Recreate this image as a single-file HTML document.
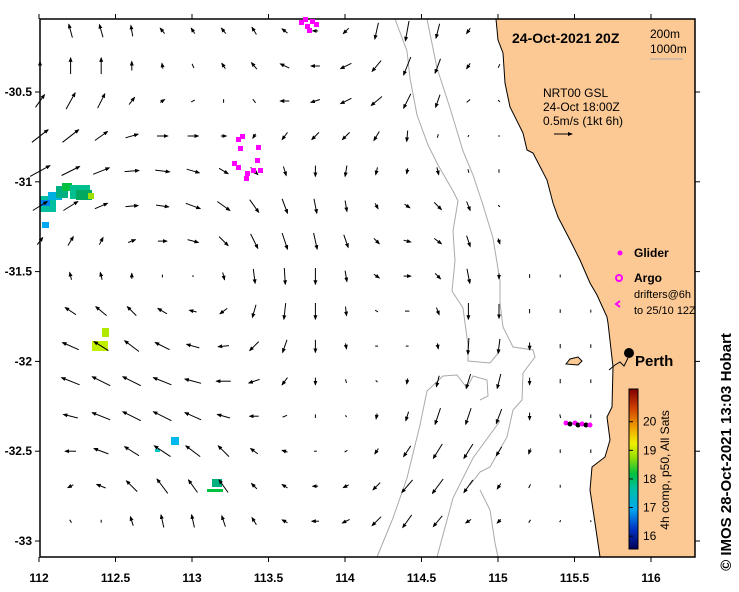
<!DOCTYPE html>
<html><head><meta charset="utf-8">
<style>
html,body{margin:0;padding:0;background:#fff;}
svg{display:block;font-family:"Liberation Sans",sans-serif;}
</style></head>
<body>
<svg id="chart" width="739" height="592" viewBox="0 0 739 592" xmlns="http://www.w3.org/2000/svg">
<defs>
<linearGradient id="cbar" x1="0" y1="1" x2="0" y2="0">
<stop offset="0" stop-color="#00005a"/>
<stop offset="0.12" stop-color="#0030c0"/>
<stop offset="0.25" stop-color="#00a8f0"/>
<stop offset="0.38" stop-color="#00c0a0"/>
<stop offset="0.47" stop-color="#00c040"/>
<stop offset="0.58" stop-color="#a0e000"/>
<stop offset="0.66" stop-color="#f0f000"/>
<stop offset="0.76" stop-color="#f0a000"/>
<stop offset="0.88" stop-color="#d04000"/>
<stop offset="1" stop-color="#800000"/>
</linearGradient>
<marker id="ah" markerWidth="5" markerHeight="4" refX="4" refY="2" orient="auto" markerUnits="userSpaceOnUse"><path d="M0,0 L5,2 L0,4 Z" fill="#000"/></marker>
</defs>
<g id="isobaths" fill="none" stroke="#aaa" stroke-width="1"></g>
<g id="sst"></g>
<g id="arrows" stroke="#000" stroke-width="1"></g>
<polygon id="land" fill="#fcc994" stroke="#000" stroke-width="1"
points="496,19 498,40 503,53 505,83 510,107 523,133 527,150 533,153 547,180 553,203 558,217 570,240 580,260 590,283 597,295 607,317 608,323 613,367 612,407 607,417 610,440 605,457 592,467 590,490 595,523 600,557 695,557 695,19"/>
<path d="M566,364 L570,359 L578,357 L582,361 L578,365 Z" fill="#fcc994" stroke="#000"/>
<g id="frame"><rect x="40" y="19" width="655" height="538" fill="none" stroke="#000" stroke-width="1.5"/></g>
<g id="axes" font-size="12" font-weight="bold" fill="#000"></g>
<text x="512" y="43" font-size="14" font-weight="bold">24-Oct-2021 20Z</text>
<text x="650" y="38" font-size="12">200m</text>
<text x="650" y="53" font-size="12">1000m</text>
<line x1="650" y1="59" x2="683" y2="59" stroke="#aaa"/>
<text x="543" y="97" font-size="12">NRT00 GSL</text>
<text x="543" y="111" font-size="12">24-Oct 18:00Z</text>
<text x="543" y="125" font-size="12">0.5m/s (1kt 6h)</text>
<line x1="554" y1="134" x2="572" y2="134" stroke="#000" marker-end="url(#ah)"/>
<circle cx="620" cy="253" r="2.5" fill="#f0f"/>
<text x="634" y="257" font-size="12" font-weight="bold">Glider</text>
<circle cx="619" cy="278" r="3" fill="none" stroke="#f0f" stroke-width="2"/>
<text x="634" y="282" font-size="12" font-weight="bold">Argo</text>
<path d="M620,301 L616,304 L620,307" fill="none" stroke="#f0f" stroke-width="2"/>
<text x="634" y="298" font-size="11">drifters@6h</text>
<text x="634" y="314" font-size="11">to 25/10 12Z</text>
<circle cx="629" cy="353" r="5" fill="#000"/>
<path d="M609,370 L615,365 L620,362 L624,366 L628,358" fill="none" stroke="#000"/>
<text x="635" y="366" font-size="15" font-weight="bold">Perth</text>
<g id="drifters" fill="#f0f"></g>
<g id="glider"></g>
<rect x="629" y="389" width="9" height="160" fill="url(#cbar)" stroke="#000"/>
<g id="cbticks" font-size="12"></g>
<text transform="translate(669,470) rotate(-90)" text-anchor="middle" font-size="12">4h comp, p50, All Sats</text>
<text transform="translate(731,452) rotate(-90)" text-anchor="middle" font-size="15" font-weight="bold">©  IMOS 28-Oct-2021 13:03 Hobart</text>
</svg>
<script>
// Axis domains
const lonTicks = [112, 112.5, 113, 113.5, 114, 114.5, 115, 115.5, 116];
const lonLabels = ["112", "112.5", "113", "113.5", "114", "114.5", "115", "115.5", "116"];
const latTicks = [-30.5, -31, -31.5, -32, -32.5, -33];
const latLabels = ["-30.5", "-31", "-31.5", "-32", "-32.5", "-33"];
const cbValues = [16, 17, 18, 19, 20];
const cbLabels = ["16", "17", "18", "19", "20"];
// Current vector grid: longitudes of columns, latitudes of rows
const gridLons = [112, 112.2, 112.4, 112.6, 112.8, 113, 113.2, 113.4, 113.6, 113.8, 114, 114.2, 114.4, 114.6, 114.8, 115, 115.2, 115.4, 115.6];
const gridLats = [-30.16, -30.355, -30.55, -30.745, -30.94, -31.135, -31.33, -31.525, -31.72, -31.915, -32.11, -32.305, -32.5, -32.695, -32.89];
// eastward velocity (cm/s) per row
const uRows = [
[0,-10,-10,-5,-12,-10,-12,-12,-15,-15,-15,-10,-10,-10,-10,0,0,0,0],
[0,0,0,0,-3,-5,-10,-15,-25,-25,-30,-25,-20,-15,-10,-5,0,0,0],
[25,25,20,15,12,10,0,8,-25,-25,-30,-30,-20,-12,-10,5,0,0,0],
[45,45,35,35,30,30,15,-8,-15,-20,-20,-15,-3,-3,-3,0,0,0,0],
[55,50,45,40,40,35,25,20,8,0,-5,-5,-3,5,3,0,0,0,0],
[40,40,35,35,35,40,35,25,15,8,5,8,15,20,10,5,0,0,0],
[15,15,10,20,25,30,25,20,15,10,12,15,20,20,10,5,0,0,0],
[0,-5,-5,0,0,5,5,5,3,0,5,15,20,15,8,0,0,0,0],
[0,-30,-30,-25,-25,-20,-20,-10,-5,0,3,8,12,8,0,0,0,0,0],
[0,-45,-40,-40,-40,-35,-30,-25,-12,0,3,8,8,3,-3,-5,0,0,0],
[0,-50,-50,-50,-50,-45,-40,-30,-15,0,3,5,-3,-8,-12,-10,0,0,0],
[0,-40,-50,-50,-50,-45,-35,-25,-12,0,3,-3,-8,-15,-15,-15,0,2,0],
[0,-30,-40,-40,-45,-40,-30,-20,-15,-8,-8,-10,-20,-25,-25,-15,-5,0,0],
[0,-15,-25,-30,-30,-25,-25,-15,-15,-15,-15,-20,-30,-30,-25,-10,-5,0,0],
[0,5,0,-8,-8,-8,-10,-12,-15,-20,-20,-25,-25,-25,-15,-10,-5,-3,0]
];
// northward velocity (cm/s) per row
const vRows = [
[0,37,35,30,15,15,15,20,12,0,-15,-45,-55,-40,-15,0,0,0,0],
[25,45,45,25,15,12,15,18,12,0,-15,-30,-50,-40,-15,-10,0,0,0],
[35,45,40,20,8,5,10,-10,0,-8,-15,-25,-40,-35,-8,-5,0,0,0],
[35,35,25,10,0,0,0,-12,-20,-20,-20,-25,-30,-10,-5,-5,0,0,0],
[30,25,18,3,-5,-10,-15,-20,-25,-30,-30,-20,-15,-20,-10,-10,0,0,0],
[25,25,15,3,-5,-15,-25,-35,-40,-40,-30,-15,-10,-20,-25,-5,0,0,0],
[20,25,20,8,0,-8,-25,-40,-45,-45,-35,-15,-5,-15,-30,-15,0,0,0],
[0,20,20,15,8,0,-20,-40,-45,-45,-30,-10,0,-15,-40,-15,-10,-8,0],
[0,20,25,25,15,5,-15,-35,-45,-45,-25,-5,0,-20,-45,-40,-12,-10,-8],
[0,20,25,30,20,10,-3,-25,-35,-35,-15,0,0,-15,-45,-40,-20,-12,-10],
[0,20,25,25,20,12,0,-10,-20,-20,-10,-5,-15,-30,-40,-40,-20,-12,-10],
[0,10,20,25,25,20,10,0,-5,-10,-5,-15,-25,-45,-45,-40,-20,-10,-10],
[0,0,15,25,30,30,30,15,5,0,-5,-15,-30,-40,-40,-25,-15,-10,-10],
[0,-8,10,30,40,35,35,15,10,0,-8,-20,-35,-40,-35,-15,-10,-8,-8],
[0,-8,-8,25,35,35,30,20,8,0,-10,-25,-35,-30,-10,-10,-8,-5,-5]
];
const NS = "http://www.w3.org/2000/svg";
const svg = document.getElementById('chart');
function xOf(lon){ return 39 + (lon - 112) * 153; }
function yOf(lat){ return 92 + (-30.5 - lat) * 179.6; }
function pxPerCm(){ return 0.36; }
function cbY(t){ return 549 - (t - 15.55) * 28.6; }
function mk(tag, attrs, parent){
  const e = document.createElementNS(NS, tag);
  for (const k in attrs) e.setAttribute(k, attrs[k]);
  parent.appendChild(e);
  return e;
}
// axes
const axes = document.getElementById('axes');
lonTicks.forEach((lon, i) => {
  const x = xOf(lon);
  const t1 = mk('line', {x1:x, y1:14, x2:x, y2:19, stroke:'#000'}, axes);
  
  
  const t2 = mk('line', {x1:x, y1:557, x2:x, y2:562, stroke:'#000'}, axes);
  
  
  const tx = mk('text', {x:x, y:582, 'text-anchor':'middle'}, axes);
  tx.textContent = lonLabels[i];
  
  
});
latTicks.forEach((lat, i) => {
  const y = yOf(lat);
  const t1 = mk('line', {x1:35, y1:y, x2:40, y2:y, stroke:'#000'}, axes);
  
  
  const t2 = mk('line', {x1:695, y1:y, x2:700, y2:y, stroke:'#000'}, axes);
  
  
  const tx = mk('text', {x:32, y:y+4, 'text-anchor':'end'}, axes);
  tx.textContent = latLabels[i];
  
  
});
// colorbar ticks
const cbt = document.getElementById('cbticks');
cbValues.forEach((v, i) => {
  const y = cbY(v);
  const l = mk('line', {x1:629, y1:y, x2:633, y2:y, stroke:'#000'}, cbt);
  
  
  const t = mk('text', {x:643, y:y+4}, cbt);
  t.textContent = cbLabels[i];
  
  
});
// vectors
const ag = document.getElementById('arrows');
gridLats.forEach((lat, r) => {
  gridLons.forEach((lon, c) => {
    const u = uRows[r][c], v = vRows[r][c];
    const dx = u * pxPerCm(), dy = -v * pxPerCm();
    const len = Math.hypot(dx, dy);
    if (len < 1.5) return;
    const cx = xOf(lon) + 1, cy = yOf(lat);
    const a = mk('line', {x1:(cx-dx/2).toFixed(1), y1:(cy-dy/2).toFixed(1), x2:(cx+dx/2).toFixed(1), y2:(cy+dy/2).toFixed(1)}, ag);
    if (len > 5) a.setAttribute('marker-end', 'url(#ah)');
    
    
  });
});
// isobaths
const iso = document.getElementById('isobaths');
const isoLines = [
 "395,19 407,51 410,78 417,115 428,145 438,165 453,191 458,201 453,231 455,261 452,291 463,308 468,345 468,361 490,363 500,351",
 "427,19 437,68 450,108 463,151 473,175 483,205 493,238 500,281 500,303 503,327 513,347 533,350 535,357 523,373 522,400 513,410 507,437 490,467 480,472 470,485",
 "377,557 393,518 407,478 420,425 427,391 443,376 457,375 467,388 473,376 487,380 488,396 480,400",
 "437,557 453,498 473,458 500,421",
 "480,490 490,510 495,543 498,557"
];
isoLines.forEach(p => {
  const pl = mk('polyline', {points:p}, iso);
  
  
});
// SST patches
const sst = document.getElementById('sst');
const patches = [
 [40,196,16,16,'#00c0a0'],[48,192,14,8,'#00b0e0'],[56,186,12,12,'#00b080'],[62,183,10,8,'#00c040'],
 [70,185,20,14,'#00c090'],[76,190,16,10,'#00a860'],[88,193,6,6,'#a0e000'],[40,200,10,6,'#0080f0'],
 [42,222,7,6,'#00a8f0'],[92,341,16,10,'#c0f000'],[102,328,7,9,'#b0e800'],
 [171,437,8,8,'#00b8f0'],[155,449,5,3,'#00c8c0'],[212,479,10,8,'#00b080'],[207,489,16,3,'#00c040']
];
patches.forEach(p => {
  const r = mk('rect', {x:p[0], y:p[1], width:p[2], height:p[3], fill:p[4]}, sst);
  
  
});
// drifters
const dg = document.getElementById('drifters');
const drifterPts = [[301,22],[307,26],[312,21],[316,24],[309,30],[305,19],[238,139],[242,136],[240,148],[258,147],[234,163],[238,167],[247,173],[253,170],[257,160],[260,170],[246,178]];
drifterPts.forEach(p => {
  const r = mk('rect', {x:p[0]-2, y:p[1]-2, width:5, height:5}, dg);
  
  
});
const gg = document.getElementById('glider');
const gliderPts = [[566,423,'#f0f'],[570,424,'#000'],[575,423,'#f0f'],[578,425,'#000'],[582,424,'#f0f'],[586,425,'#000'],[590,425,'#f0f']];
gliderPts.forEach(p => {
  const c = mk('circle', {cx:p[0], cy:p[1], r:2.5, fill:p[2]}, gg);
  
  
});
</script>
</body></html>
